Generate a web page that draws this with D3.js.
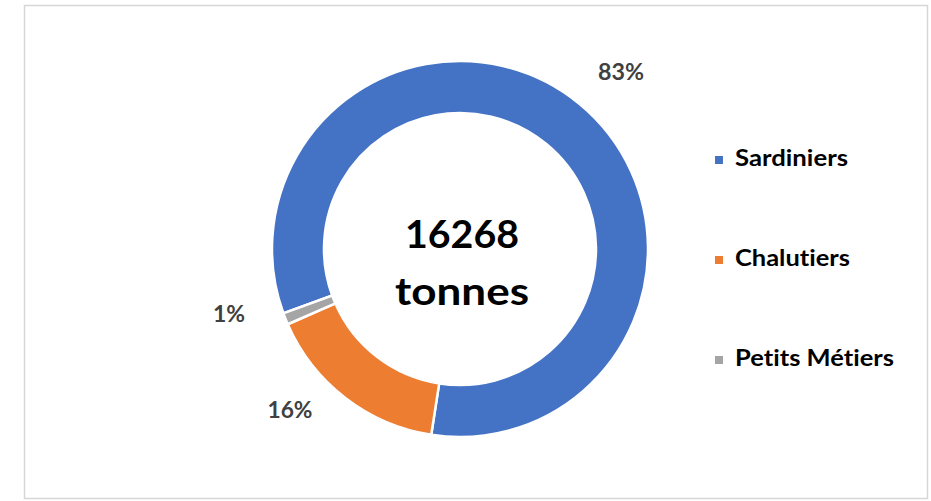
<!DOCTYPE html>
<html><head><meta charset="utf-8">
<script src="https://cdn.jsdelivr.net/npm/d3@7"></script>
<style>
html,body{margin:0;padding:0;background:#fff;}
svg{display:block;}
text{font-variant-ligatures:none;font-feature-settings:"liga" 0, "clig" 0;}
</style></head>
<body>
<svg id="chart" width="931" height="501"></svg>
<script>
const categories = ["Sardiniers", "Chalutiers", "Petits Métiers"];
const values = [83, 16, 1];
const labels = ["83%", "16%", "1%"];
const colors = ["#4472C4", "#ED7D31", "#A5A5A5"];
const centerLines = ["16268", "tonnes"];

const svg = d3.select("#chart");
const font = "Lato, 'Open Sans', sans-serif";

svg.append("rect").attr("x", 24.5).attr("y", 5.5).attr("width", 903).attr("height", 493)
  .attr("fill", "#fff").attr("stroke", "#d6d6d6").attr("stroke-width", 1.5);

const cx = 460, cy = 249, rOut = 188, rIn = 136;
const startA = 250 * Math.PI / 180;
const pie = d3.pie().sort(null).value(d => d).startAngle(startA).endAngle(startA + 2 * Math.PI);
const arcs = pie(values);
const arc = d3.arc().innerRadius(rIn).outerRadius(rOut);
const g = svg.append("g").attr("transform", `translate(${cx},${cy})`);
g.selectAll("path").data(arcs).join("path")
  .attr("d", arc).attr("fill", (d, i) => colors[i])
  .attr("stroke", "#fff").attr("stroke-width", 2.5).attr("stroke-linejoin", "miter");

// data labels placed outside the ring
const labelPos = [[621, 80], [290, 418], [229, 322]];
const labelW = [46, 45, 32];
svg.selectAll("text.lbl").data(labels).join("text").attr("class", "lbl")
  .attr("x", (d, i) => labelPos[i][0]).attr("y", (d, i) => labelPos[i][1])
  .attr("text-anchor", "middle").attr("font-family", font).attr("font-weight", 700)
  .attr("font-size", 22).attr("fill", "#404040")
  .attr("textLength", (d, i) => labelW[i]).attr("lengthAdjust", "spacingAndGlyphs")
  .text(d => d);

// center text
const cW = [114, 134], cY = [248, 305];
svg.selectAll("text.ctr").data(centerLines).join("text").attr("class", "ctr")
  .attr("x", cx + 2).attr("y", (d, i) => cY[i]).attr("text-anchor", "middle")
  .attr("font-family", font).attr("font-weight", 700).attr("font-size", 38)
  .attr("fill", "#000")
  .attr("textLength", (d, i) => cW[i]).attr("lengthAdjust", "spacingAndGlyphs")
  .text(d => d);

// legend
const lg = svg.append("g");
const ly = d3.scalePoint().domain(categories).range([166, 366]);
const legW = [113, 115, 159];
lg.selectAll("rect").data(categories).join("rect")
  .attr("x", 715).attr("y", d => ly(d) - 10).attr("width", 8).attr("height", 8)
  .attr("fill", (d, i) => colors[i]);
lg.selectAll("text").data(categories).join("text")
  .attr("x", 735).attr("y", d => ly(d))
  .attr("font-family", font).attr("font-weight", 700).attr("font-size", 22)
  .attr("fill", "#000")
  .attr("textLength", (d, i) => legW[i]).attr("lengthAdjust", "spacingAndGlyphs")
  .text(d => d);
</script>
</body></html>
